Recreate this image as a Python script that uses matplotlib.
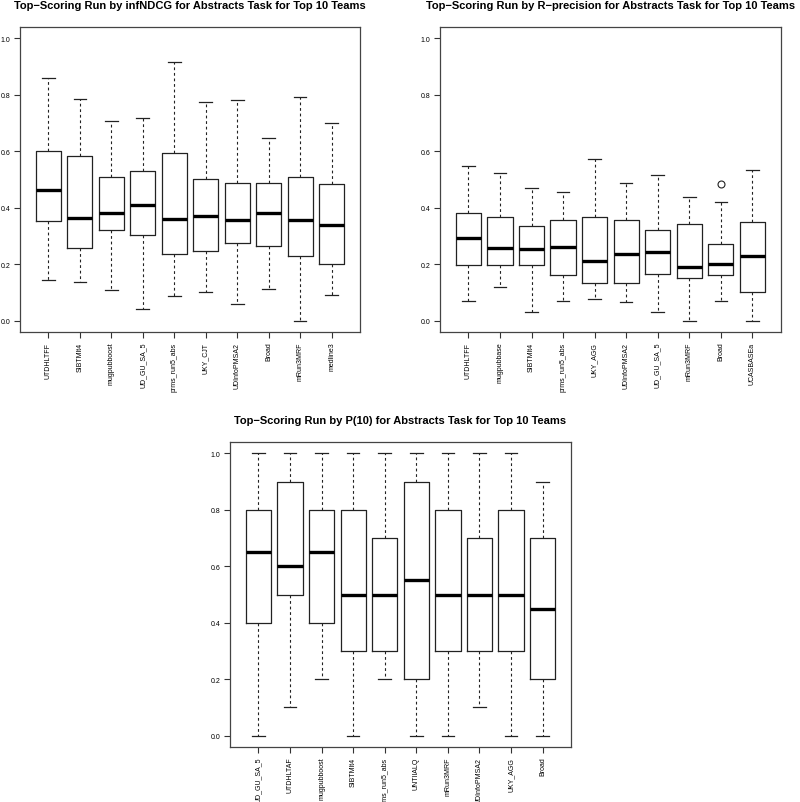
import numpy as np
import matplotlib.pyplot as plt

plt.rcParams['font.family'] = ['Liberation Sans', 'DejaVu Sans']

# infNDCG panel
ndcg_teams = ['UTDHLTFF', 'SIBTMlt4', 'mugpubboost', 'UD_GU_SA_5', 'prms_run5_abs',
              'UKY_CJT', 'UDInfoPMSA2', 'Broad', 'mRun3MRF', 'medline3']
ndcg_lo = [0.143, 0.138, 0.108, 0.043, 0.088, 0.102, 0.060, 0.114, 0.000, 0.091]
ndcg_q1 = [0.352, 0.259, 0.320, 0.304, 0.237, 0.246, 0.275, 0.266, 0.228, 0.202]
ndcg_med = [0.463, 0.363, 0.381, 0.410, 0.359, 0.370, 0.356, 0.381, 0.357, 0.339]
ndcg_q3 = [0.600, 0.582, 0.508, 0.530, 0.593, 0.501, 0.486, 0.489, 0.510, 0.483]
ndcg_hi = [0.860, 0.786, 0.707, 0.719, 0.915, 0.773, 0.783, 0.647, 0.791, 0.700]
ndcg_out = [[], [], [], [], [], [], [], [], [], []]

# R-precision panel
rprec_teams = ['UTDHLTFF', 'mugpubbase', 'SIBTMlt4', 'prms_run5_abs', 'UKY_AGG',
               'UDInfoPMSA2', 'UD_GU_SA_5', 'mRun3MRF', 'Broad', 'UCASBASEa']
rprec_lo = [0.070, 0.119, 0.031, 0.070, 0.077, 0.065, 0.031, 0.000, 0.070, 0.000]
rprec_q1 = [0.196, 0.198, 0.198, 0.163, 0.135, 0.135, 0.166, 0.152, 0.163, 0.103]
rprec_med = [0.293, 0.256, 0.255, 0.261, 0.212, 0.238, 0.242, 0.189, 0.202, 0.228]
rprec_q3 = [0.381, 0.369, 0.336, 0.358, 0.367, 0.356, 0.321, 0.344, 0.272, 0.350]
rprec_hi = [0.548, 0.524, 0.469, 0.457, 0.572, 0.486, 0.516, 0.437, 0.419, 0.533]
rprec_out = [[], [], [], [], [], [], [], [], [0.483], []]

# P(10) panel
p10_teams = ['UD_GU_SA_5', 'UTDHLTAF', 'mugpubboost', 'SIBTMlt4', 'prms_run5_abs',
             'UNTIIALQ', 'mRun3MRF', 'UDInfoPMSA2', 'UKY_AGG', 'Broad']
p10_lo = [0.0, 0.1, 0.2, 0.0, 0.2, 0.0, 0.0, 0.1, 0.0, 0.0]
p10_q1 = [0.4, 0.5, 0.4, 0.3, 0.3, 0.2, 0.3, 0.3, 0.3, 0.2]
p10_med = [0.65, 0.6, 0.65, 0.5, 0.5, 0.55, 0.5, 0.5, 0.5, 0.45]
p10_q3 = [0.8, 0.9, 0.8, 0.8, 0.7, 0.9, 0.8, 0.7, 0.8, 0.7]
p10_hi = [1.0, 1.0, 1.0, 1.0, 1.0, 1.0, 1.0, 1.0, 1.0, 0.9]
p10_out = [[], [], [], [], [], [], [], [], [], []]


def rbox(ax, title, teams, lo, q1, med, q3, hi, out):
    stats = []
    for i in range(len(teams)):
        stats.append(dict(whislo=lo[i], q1=q1[i], med=med[i], q3=q3[i],
                          whishi=hi[i], fliers=out[i], label=teams[i]))
    ax.bxp(stats, positions=range(1, len(teams) + 1), widths=0.8, capwidths=0.4,
           boxprops=dict(color='#222222', linewidth=0.9),
           whiskerprops=dict(color='#222222', linewidth=0.8, linestyle=(0, (2.5, 2.5))),
           capprops=dict(color='#222222', linewidth=0.9),
           medianprops=dict(color='black', linewidth=2.4),
           flierprops=dict(marker='o', markerfacecolor='none', markeredgecolor='#222222',
                           markersize=5, markeredgewidth=0.8))
    ax.set_xlim(0.1, len(teams) + 0.9)
    ax.set_ylim(-0.04, 1.04)
    ax.set_yticks(np.arange(0, 1.01, 0.2))
    ax.set_yticklabels(['%.1f' % v for v in np.arange(0, 1.01, 0.2)])
    ax.set_xticks(range(1, len(teams) + 1))
    ax.set_xticklabels(teams, rotation=90)
    ax.tick_params(labelsize=5, length=4, width=0.8, color='#333333', pad=3)
    for s in ax.spines.values():
        s.set_linewidth(0.9)
        s.set_color('#444444')
    ax.set_title(title, fontsize=8.0, fontweight='bold', pad=14)


fig = plt.figure(figsize=(8, 8.03), dpi=100)
ax1 = fig.add_axes([0.025, 0.5853, 0.425, 0.3798])
ax2 = fig.add_axes([0.55, 0.5853, 0.426, 0.3798])
ax3 = fig.add_axes([0.2875, 0.0685, 0.4263, 0.3798])

rbox(ax1, 'Top\u2212Scoring Run by infNDCG for Abstracts Task for Top 10 Teams',
     ndcg_teams, ndcg_lo, ndcg_q1, ndcg_med, ndcg_q3, ndcg_hi, ndcg_out)
rbox(ax2, 'Top\u2212Scoring Run by R\u2212precision for Abstracts Task for Top 10 Teams',
     rprec_teams, rprec_lo, rprec_q1, rprec_med, rprec_q3, rprec_hi, rprec_out)
rbox(ax3, 'Top\u2212Scoring Run by P(10) for Abstracts Task for Top 10 Teams',
     p10_teams, p10_lo, p10_q1, p10_med, p10_q3, p10_hi, p10_out)

plt.savefig('out.png', dpi=100)
